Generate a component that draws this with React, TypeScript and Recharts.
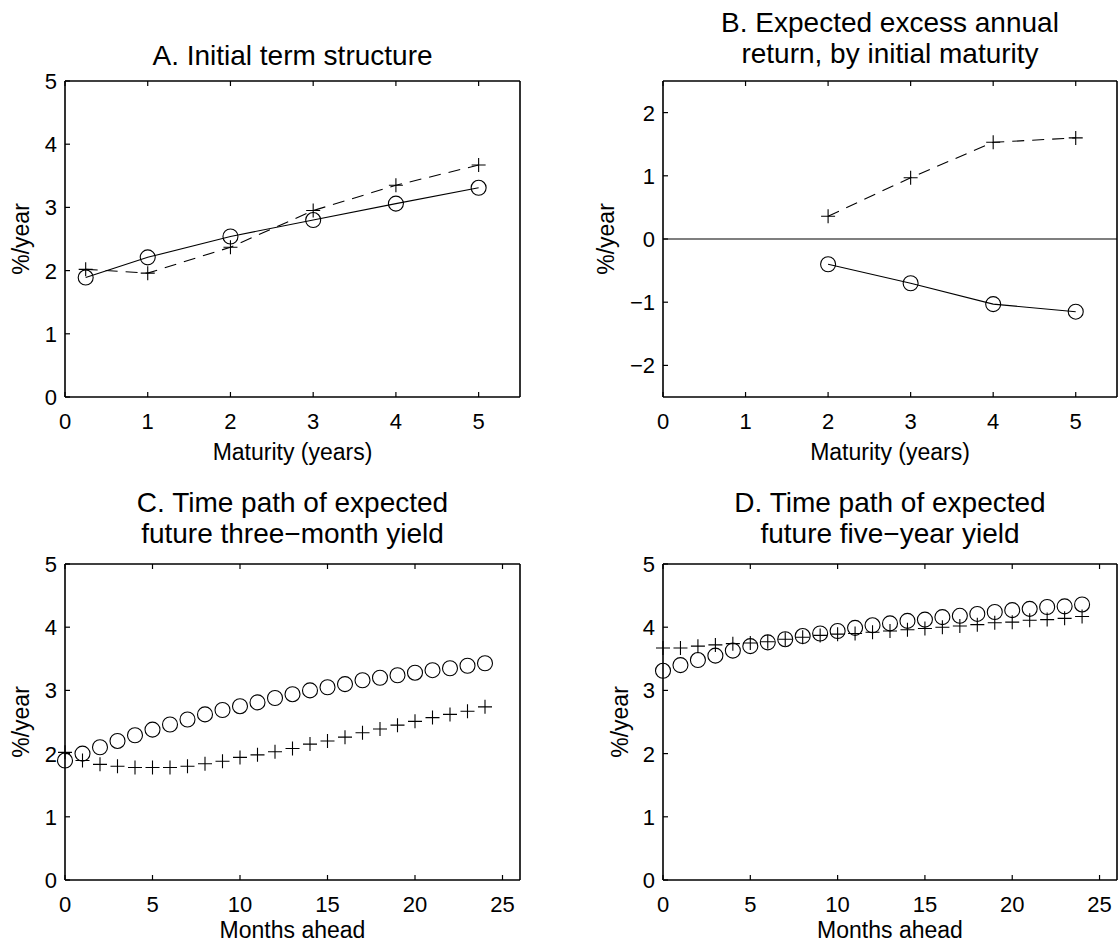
import React from 'react'
import { ComposedChart, Line, XAxis, YAxis, ReferenceLine } from 'recharts'

const FONT = '"Liberation Sans", Arial, Helvetica, sans-serif'

// Panel A: initial term structure
const maturitiesA = [0.25, 1, 2, 3, 4, 5]
const termCircle = [1.89, 2.21, 2.54, 2.8, 3.06, 3.31]
const termPlus = [2.02, 1.96, 2.37, 2.95, 3.35, 3.67]

// Panel B: expected excess annual return
const maturitiesB = [2, 3, 4, 5]
const excessPlus = [0.36, 0.97, 1.53, 1.6]
const excessCircle = [-0.4, -0.7, -1.03, -1.15]

// Panels C and D: months ahead
const months = [0, 1, 2, 3, 4, 5, 6, 7, 8, 9, 10, 11, 12, 13, 14, 15, 16, 17, 18, 19, 20, 21, 22, 23, 24]
const shortCircle = [1.89, 2.0, 2.1, 2.2, 2.29, 2.38, 2.46, 2.54, 2.62, 2.69, 2.75, 2.81, 2.88, 2.94, 3.0, 3.05, 3.1, 3.16, 3.2, 3.24, 3.28, 3.32, 3.35, 3.39, 3.43]
const shortPlus = [2.02, 1.89, 1.83, 1.8, 1.78, 1.78, 1.78, 1.8, 1.84, 1.88, 1.94, 1.98, 2.03, 2.08, 2.15, 2.2, 2.26, 2.33, 2.39, 2.45, 2.51, 2.57, 2.62, 2.67, 2.74]
const longCircle = [3.31, 3.4, 3.48, 3.55, 3.63, 3.7, 3.76, 3.81, 3.86, 3.9, 3.94, 3.99, 4.03, 4.06, 4.1, 4.12, 4.16, 4.18, 4.21, 4.24, 4.27, 4.29, 4.32, 4.33, 4.36]
const longPlus = [3.67, 3.67, 3.7, 3.72, 3.74, 3.75, 3.77, 3.81, 3.84, 3.87, 3.89, 3.9, 3.92, 3.94, 3.96, 3.98, 4.0, 4.02, 4.04, 4.07, 4.08, 4.11, 4.12, 4.14, 4.17]

const maturityTicks = [0, 1, 2, 3, 4, 5]
const monthTicks = [0, 5, 10, 15, 20, 25]
const yieldTicks = [0, 1, 2, 3, 4, 5]
const excessTicks = [-2, -1, 0, 1, 2]

const rows = (xs: number[], a: number[], b: number[]) => xs.map((x, i) => ({ x, a: a[i], b: b[i] }))

const fmt = (v: number) => (v < 0 ? '\u2212' + Math.abs(v) : String(v))

const TICK = 5
const textStyle = { fontFamily: FONT, fill: '#000' }

// ticks are drawn inward, like a boxed matlab axes
const BottomTick = ({ x, y, payload }: any) => (
  <g>
    <line x1={x} x2={x} y1={y} y2={y - TICK} stroke="#000" strokeWidth={1.2} />
    <text x={x} y={y + 32} textAnchor="middle" fontSize={22} {...textStyle}>
      {fmt(payload.value)}
    </text>
  </g>
)
const TopTick = ({ x, y }: any) => <line x1={x} x2={x} y1={y} y2={y + TICK} stroke="#000" strokeWidth={1.2} />
const LeftTick = ({ x, y, payload }: any) => (
  <g>
    <line x1={x} x2={x + TICK} y1={y} y2={y} stroke="#000" strokeWidth={1.2} />
    <text x={x - 8} y={y} dy={8} textAnchor="end" fontSize={22} {...textStyle}>
      {fmt(payload.value)}
    </text>
  </g>
)
const RightTick = ({ x, y }: any) => <line x1={x} x2={x - TICK} y1={y} y2={y} stroke="#000" strokeWidth={1.2} />

const circleDot = (p: any) => (
  <circle key={'c' + p.index} cx={p.cx} cy={p.cy} r={7.5} fill="none" stroke="#000" strokeWidth={1.1} />
)
const plusDot = (p: any) => (
  <path
    key={'p' + p.index}
    d={`M${p.cx - 7},${p.cy}H${p.cx + 7}M${p.cx},${p.cy - 7}V${p.cy + 7}`}
    stroke="#000"
    strokeWidth={1.1}
    fill="none"
  />
)

function axes(xDomain: number[], xTicks: number[], yDomain: number[], yTicks: number[]) {
  const common = { tickSize: 0, tickMargin: 0, tickLine: false, interval: 0 as const, axisLine: { stroke: '#000', strokeWidth: 1.6 } }
  return [
    <XAxis key="xb" xAxisId="b" type="number" dataKey="x" domain={xDomain} ticks={xTicks} height={1} tick={<BottomTick />} {...common} />,
    <XAxis key="xt" xAxisId="t" orientation="top" type="number" dataKey="x" domain={xDomain} ticks={xTicks} height={1} tick={<TopTick />} {...common} />,
    <YAxis key="yl" yAxisId="l" type="number" domain={yDomain} ticks={yTicks} width={1} tick={<LeftTick />} {...common} />,
    <YAxis key="yr" yAxisId="r" orientation="right" type="number" domain={yDomain} ticks={yTicks} width={1} tick={<RightTick />} {...common} />,
  ]
}

const Title = ({ x, y, lines }: { x: number; y: number; lines: string[] }) => (
  <>
    {lines.map((t, i) => (
      <text key={i} x={x} y={y + i * 31.6} textAnchor="middle" fontSize={28} {...textStyle}>
        {t}
      </text>
    ))}
  </>
)

export default function App() {
  // axis width/height of 1 is added to each margin
  const topMargin = { top: 80, bottom: 472 - 397 - 1 }
  const botMargin = { top: 564 - 472 - 1, bottom: 944 - 880 - 1 }
  const leftMargin = { left: 64, right: 560 - 520 - 1 }
  const rightMargin = { left: 663 - 560 - 1, right: 559 - (1117 - 560) - 1 }

  return (
    <div style={{ position: 'absolute', left: 0, top: 0, width: 1119, height: 944, background: '#fff', fontFamily: FONT }}>
      <div style={{ position: 'absolute', left: 0, top: 0 }}>
        <ComposedChart width={560} height={472} data={rows(maturitiesA, termCircle, termPlus)} margin={{ ...topMargin, ...leftMargin }}>
          {axes([0, 5.5], maturityTicks, [0, 5], yieldTicks)}
          <Line xAxisId="b" yAxisId="l" type="linear" dataKey="a" stroke="#000" strokeWidth={1.1} dot={circleDot} activeDot={false} isAnimationActive={false} />
          <Line xAxisId="b" yAxisId="l" type="linear" dataKey="b" stroke="#000" strokeWidth={1.1} strokeDasharray="12 8" dot={plusDot} activeDot={false} isAnimationActive={false} />
        </ComposedChart>
      </div>
      <div style={{ position: 'absolute', left: 560, top: 0 }}>
        <ComposedChart width={559} height={472} data={rows(maturitiesB, excessCircle, excessPlus)} margin={{ ...topMargin, ...rightMargin }}>
          {axes([0, 5.5], maturityTicks, [-2.5, 2.5], excessTicks)}
          <ReferenceLine xAxisId="b" yAxisId="l" y={0} stroke="#000" strokeWidth={1.2} />
          <Line xAxisId="b" yAxisId="l" type="linear" dataKey="a" stroke="#000" strokeWidth={1.1} dot={circleDot} activeDot={false} isAnimationActive={false} />
          <Line xAxisId="b" yAxisId="l" type="linear" dataKey="b" stroke="#000" strokeWidth={1.1} strokeDasharray="12 8" dot={plusDot} activeDot={false} isAnimationActive={false} />
        </ComposedChart>
      </div>
      <div style={{ position: 'absolute', left: 0, top: 472 }}>
        <ComposedChart width={560} height={472} data={rows(months, shortCircle, shortPlus)} margin={{ ...botMargin, ...leftMargin }}>
          {axes([0, 26], monthTicks, [0, 5], yieldTicks)}
          <Line xAxisId="b" yAxisId="l" dataKey="a" stroke="none" dot={circleDot} activeDot={false} isAnimationActive={false} />
          <Line xAxisId="b" yAxisId="l" dataKey="b" stroke="none" dot={plusDot} activeDot={false} isAnimationActive={false} />
        </ComposedChart>
      </div>
      <div style={{ position: 'absolute', left: 560, top: 472 }}>
        <ComposedChart width={559} height={472} data={rows(months, longCircle, longPlus)} margin={{ ...botMargin, ...rightMargin }}>
          {axes([0, 26], monthTicks, [0, 5], yieldTicks)}
          <Line xAxisId="b" yAxisId="l" dataKey="a" stroke="none" dot={circleDot} activeDot={false} isAnimationActive={false} />
          <Line xAxisId="b" yAxisId="l" dataKey="b" stroke="none" dot={plusDot} activeDot={false} isAnimationActive={false} />
        </ComposedChart>
      </div>

      <svg width={1119} height={944} style={{ position: 'absolute', left: 0, top: 0, pointerEvents: 'none' }}>
        <Title x={292.5} y={65} lines={['A. Initial term structure']} />
        <Title x={890} y={31.7} lines={['B. Expected excess annual', 'return, by initial maturity']} />
        <Title x={292.5} y={511.7} lines={['C. Time path of expected', 'future three\u2212month yield']} />
        <Title x={890} y={511.7} lines={['D. Time path of expected', 'future five\u2212year yield']} />

        <text x={292.5} y={460} textAnchor="middle" fontSize={23} {...textStyle}>Maturity (years)</text>
        <text x={890} y={460} textAnchor="middle" fontSize={23} {...textStyle}>Maturity (years)</text>
        <text x={292.5} y={938} textAnchor="middle" fontSize={23} {...textStyle}>Months ahead</text>
        <text x={890} y={938} textAnchor="middle" fontSize={23} {...textStyle}>Months ahead</text>

        <text transform="translate(29,239) rotate(-90)" textAnchor="middle" fontSize={23} {...textStyle}>%/year</text>
        <text transform="translate(614,239) rotate(-90)" textAnchor="middle" fontSize={23} {...textStyle}>%/year</text>
        <text transform="translate(29,722) rotate(-90)" textAnchor="middle" fontSize={23} {...textStyle}>%/year</text>
        <text transform="translate(628,722) rotate(-90)" textAnchor="middle" fontSize={23} {...textStyle}>%/year</text>
      </svg>
    </div>
  )
}
